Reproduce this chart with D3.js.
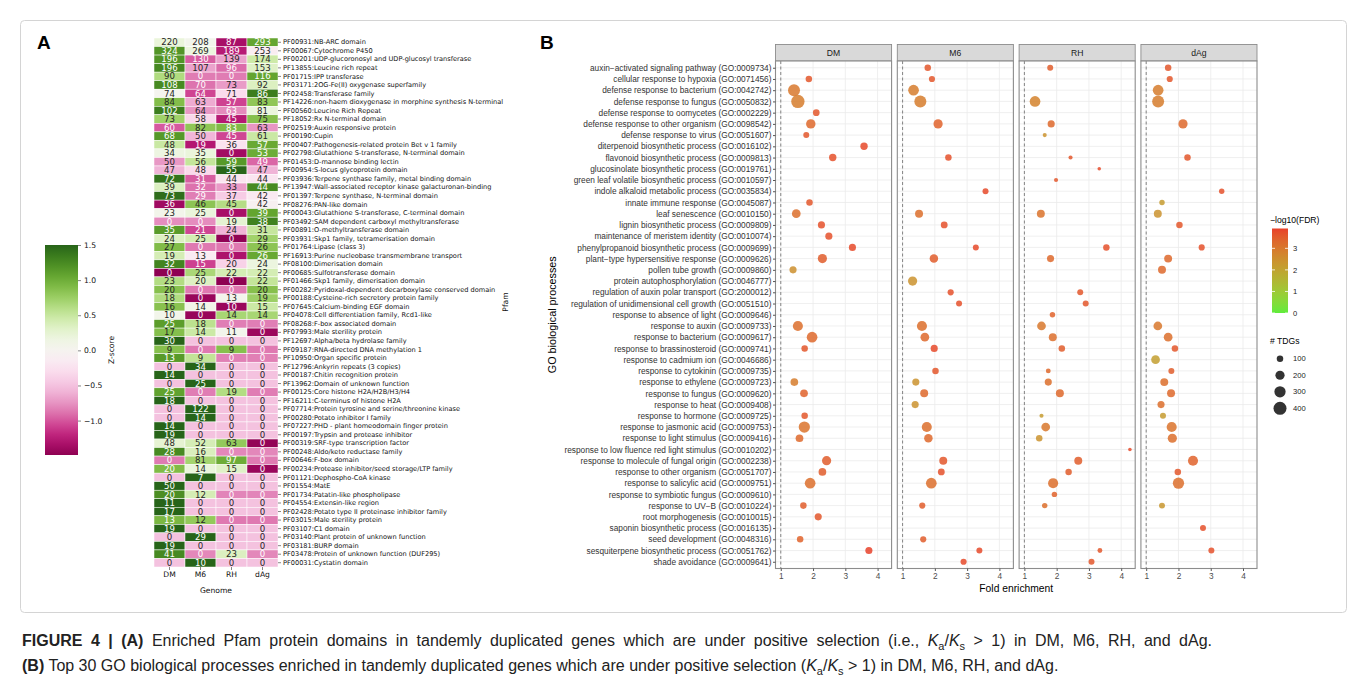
<!DOCTYPE html>
<html><head><meta charset="utf-8">
<script src="https://cdn.jsdelivr.net/npm/d3@7/dist/d3.min.js"></script>
<style>
body{margin:0;background:#fff}
svg{display:block}
</style>
</head><body>
<svg id="fig" width="1356" height="686"></svg>
<script>
// ---------- Panel A: Pfam domains x genome (TDG counts, coloured by row z-score)
const genomes = ["DM", "M6", "RH", "dAg"];
const pfamDomains = [
  "PF00931:NB-ARC domain",
  "PF00067:Cytochrome P450",
  "PF00201:UDP-glucoronosyl and UDP-glucosyl transferase",
  "PF13855:Leucine rich repeat",
  "PF01715:IPP transferase",
  "PF03171:2OG-Fe(II) oxygenase superfamily",
  "PF02458:Transferase family",
  "PF14226:non-haem dioxygenase in morphine synthesis N-terminal",
  "PF00560:Leucine Rich Repeat",
  "PF18052:Rx N-terminal domain",
  "PF02519:Auxin responsive protein",
  "PF00190:Cupin",
  "PF00407:Pathogenesis-related protein Bet v 1 family",
  "PF02798:Glutathione S-transferase, N-terminal domain",
  "PF01453:D-mannose binding lectin",
  "PF00954:S-locus glycoprotein domain",
  "PF03936:Terpene synthase family, metal binding domain",
  "PF13947:Wall-associated receptor kinase galacturonan-binding",
  "PF01397:Terpene synthase, N-terminal domain",
  "PF08276:PAN-like domain",
  "PF00043:Glutathione S-transferase, C-terminal domain",
  "PF03492:SAM dependent carboxyl methyltransferase",
  "PF00891:O-methyltransferase domain",
  "PF03931:Skp1 family, tetramerisation domain",
  "PF01764:Lipase (class 3)",
  "PF16913:Purine nucleobase transmembrane transport",
  "PF08100:Dimerisation domain",
  "PF00685:Sulfotransferase domain",
  "PF01466:Skp1 family, dimerisation domain",
  "PF00282:Pyridoxal-dependent decarboxylase conserved domain",
  "PF00188:Cysteine-rich secretory protein family",
  "PF07645:Calcium-binding EGF domain",
  "PF04078:Cell differentiation family, Rcd1-like",
  "PF08268:F-box associated domain",
  "PF07993:Male sterility protein",
  "PF12697:Alpha/beta hydrolase family",
  "PF09187:RNA-directed DNA methylation 1",
  "PF10950:Organ specific protein",
  "PF12796:Ankyrin repeats (3 copies)",
  "PF00187:Chitin recognition protein",
  "PF13962:Domain of unknown function",
  "PF00125:Core histone H2A/H2B/H3/H4",
  "PF16211:C-terminus of histone H2A",
  "PF07714:Protein tyrosine and serine/threonine kinase",
  "PF00280:Potato inhibitor I family",
  "PF07227:PHD - plant homeodomain finger protein",
  "PF00197:Trypsin and protease inhibitor",
  "PF00319:SRF-type transcription factor",
  "PF00248:Aldo/keto reductase family",
  "PF00646:F-box domain",
  "PF00234:Protease inhibitor/seed storage/LTP family",
  "PF01121:Dephospho-CoA kinase",
  "PF01554:MatE",
  "PF01734:Patatin-like phospholipase",
  "PF04554:Extensin-like region",
  "PF02428:Potato type II proteinase inhibitor family",
  "PF03015:Male sterility protein",
  "PF03107:C1 domain",
  "PF03140:Plant protein of unknown function",
  "PF03181:BURP domain",
  "PF03478:Protein of unknown function (DUF295)",
  "PF00031:Cystatin domain"
];
const countsDM  = [220,324,196,196,90,108,74,84,102,73,60,68,48,34,50,47,72,39,73,36,23,0,35,24,27,19,32,0,23,20,18,16,10,25,17,30,9,13,0,14,0,25,18,0,0,14,19,48,28,0,20,0,50,20,11,17,13,19,0,19,41,0];
const countsM6  = [208,269,130,107,0,70,64,63,64,58,82,50,19,35,56,48,31,32,29,46,25,0,21,25,0,13,15,25,20,0,0,14,0,18,14,0,0,9,34,0,25,0,0,122,14,0,0,52,16,81,14,7,0,12,0,0,12,0,29,0,0,10];
const countsRH  = [87,189,139,96,0,73,71,57,63,45,83,45,36,0,59,55,44,33,37,45,0,19,24,0,0,0,20,22,0,0,13,10,14,0,11,0,9,0,0,0,0,19,0,0,0,0,0,63,0,97,15,0,0,0,0,0,0,0,0,0,23,0];
const countsDAg = [293,253,174,153,116,92,86,83,81,75,63,61,57,53,49,47,44,44,42,42,39,38,31,29,26,26,24,22,22,20,19,15,14,0,0,0,0,0,0,0,0,0,0,0,0,0,0,0,0,0,0,0,0,0,0,0,0,0,0,0,0,0];
const zTicks = [1.5, 1.0, 0.5, 0.0, -0.5, -1.0];

// ---------- Panel B: GO biological processes (fold enrichment, -log10 FDR, # TDGs)
const goTerms = [
  "auxin\u2212activated signaling pathway (GO:0009734)",
  "cellular response to hypoxia (GO:0071456)",
  "defense response to bacterium (GO:0042742)",
  "defense response to fungus (GO:0050832)",
  "defense response to oomycetes (GO:0002229)",
  "defense response to other organism (GO:0098542)",
  "defense response to virus (GO:0051607)",
  "diterpenoid biosynthetic process (GO:0016102)",
  "flavonoid biosynthetic process (GO:0009813)",
  "glucosinolate biosynthetic process (GO:0019761)",
  "green leaf volatile biosynthetic process (GO:0010597)",
  "indole alkaloid metabolic process (GO:0035834)",
  "innate immune response (GO:0045087)",
  "leaf senescence (GO:0010150)",
  "lignin biosynthetic process (GO:0009809)",
  "maintenance of meristem identity (GO:0010074)",
  "phenylpropanoid biosynthetic process (GO:0009699)",
  "plant\u2212type hypersensitive response (GO:0009626)",
  "pollen tube growth (GO:0009860)",
  "protein autophosphorylation (GO:0046777)",
  "regulation of auxin polar transport (GO:2000012)",
  "regulation of unidimensional cell growth (GO:0051510)",
  "response to absence of light (GO:0009646)",
  "response to auxin (GO:0009733)",
  "response to bacterium (GO:0009617)",
  "response to brassinosteroid (GO:0009741)",
  "response to cadmium ion (GO:0046686)",
  "response to cytokinin (GO:0009735)",
  "response to ethylene (GO:0009723)",
  "response to fungus (GO:0009620)",
  "response to heat (GO:0009408)",
  "response to hormone (GO:0009725)",
  "response to jasmonic acid (GO:0009753)",
  "response to light stimulus (GO:0009416)",
  "response to low fluence red light stimulus (GO:0010202)",
  "response to molecule of fungal origin (GO:0002238)",
  "response to other organism (GO:0051707)",
  "response to salicylic acid (GO:0009751)",
  "response to symbiotic fungus (GO:0009610)",
  "response to UV\u2212B (GO:0010224)",
  "root morphogenesis (GO:0010015)",
  "saponin biosynthetic process (GO:0016135)",
  "seed development (GO:0048316)",
  "sesquiterpene biosynthetic process (GO:0051762)",
  "shade avoidance (GO:0009641)"
];
const _ = null;
const foldDM  = [_,1.87,1.41,1.53,2.10,1.93,1.79,3.58,2.61,_,_,_,1.89,1.48,2.26,2.49,3.22,2.29,1.38,_,_,_,_,1.53,1.97,1.74,_,_,1.42,1.72,_,1.74,1.73,1.58,_,2.42,2.29,1.91,_,1.70,2.16,_,1.60,3.73,_];
const tdgDM   = [_,100,340,420,105,210,85,130,130,_,_,_,100,180,120,120,120,200,120,_,_,_,_,240,270,100,_,_,140,140,_,100,300,140,_,200,140,270,_,100,120,_,100,120,_];
const fdrDM   = [_,3.6,3.0,2.9,3.6,3.3,3.6,3.8,3.7,_,_,_,3.6,3.2,3.7,3.7,3.8,3.5,2.5,_,_,_,_,3.2,3.3,3.6,_,_,2.9,3.4,_,3.6,3.1,3.3,_,3.5,3.5,3.2,_,3.5,3.6,_,3.4,3.9,_];
const foldM6  = [1.78,1.91,1.34,1.55,_,2.10,_,_,2.42,_,_,3.57,_,1.51,2.29,_,3.27,1.97,_,1.31,2.49,2.75,_,1.60,1.69,1.98,_,2.02,1.41,1.67,1.39,_,1.75,1.80,_,2.26,2.20,1.89,_,1.61,_,_,1.64,3.38,2.89];
const tdgM6   = [100,90,270,340,_,200,_,_,100,_,_,85,_,150,110,_,85,170,_,200,90,85,_,240,180,120,_,100,120,150,120,_,240,170,_,150,110,270,_,90,_,_,90,85,90];
const fdrM6   = [3.6,3.6,2.9,2.9,_,3.4,_,_,3.7,_,_,3.8,_,3.2,3.7,_,3.8,3.5,_,2.4,3.7,3.7,_,3.2,3.3,3.8,_,3.6,2.4,3.3,2.4,_,3.2,3.3,_,3.6,3.7,3.2,_,3.5,_,_,3.5,3.8,3.8];
const foldRH  = [1.80,_,_,1.33,_,1.83,1.63,_,2.43,3.32,1.98,_,_,1.51,_,_,3.54,1.81,_,_,2.73,2.90,1.87,1.53,1.88,2.16,_,1.74,1.74,2.10,_,1.53,1.66,1.46,4.27,2.67,2.37,1.89,1.93,1.63,_,_,_,3.34,3.08];
const tdgRH   = [85,_,_,270,_,120,40,_,40,30,40,_,_,150,_,_,100,120,_,_,85,85,70,180,150,100,_,55,120,150,_,40,180,100,30,150,100,240,70,70,_,_,_,55,85];
const fdrRH   = [3.5,_,_,2.8,_,3.3,2.4,_,3.6,3.8,3.6,_,_,3.1,_,_,3.7,3.3,_,_,3.6,3.6,3.4,3.0,3.2,3.5,_,3.3,3.2,3.3,_,2.2,3.0,2.4,3.8,3.5,3.5,3.2,3.4,3.2,_,_,_,3.6,3.6];
const foldDAg = [1.68,1.73,1.37,1.37,_,2.14,_,_,2.28,_,_,3.34,1.49,1.36,2.03,_,2.72,1.68,1.49,_,_,_,_,1.36,1.68,1.89,1.29,1.78,1.56,1.77,1.46,1.52,1.79,1.81,_,2.45,1.98,2.00,_,1.49,_,2.76,_,3.02,_];
const tdgDAg  = [100,90,270,340,_,200,_,_,100,_,_,70,70,150,100,_,90,150,150,_,_,_,_,180,180,100,180,85,150,150,120,85,240,200,_,240,100,300,_,85,_,85,_,85,_];
const fdrDAg  = [3.6,3.6,2.9,2.9,_,3.3,_,_,3.6,_,_,3.7,2.2,2.4,3.6,_,3.7,3.3,3.3,_,_,_,_,3.0,3.2,3.6,2.1,3.5,3.2,3.3,3.2,2.2,3.1,3.2,_,3.4,3.6,3.2,_,2.3,_,3.7,_,3.7,_];
const fdrTicks = [0, 1, 2, 3];
const tdgLegend = [100, 200, 300, 400];
const foldTicks = [1, 2, 3, 4];

// ---------------------------------------------------------------
const svg = d3.select("#fig");
svg.append("rect").attr("width", 1356).attr("height", 686).attr("fill", "#fff");
svg.append("rect").attr("x", 20.5).attr("y", 20.5).attr("width", 1326).attr("height", 592)
  .attr("rx", 4).attr("fill", "none").attr("stroke", "#d4d4d4");

const fontA = "'DejaVu Sans', sans-serif";
const fontB = "'Liberation Sans', Arial, sans-serif";

svg.append("text").attr("x", 37).attr("y", 49).attr("font-family", fontB)
  .attr("font-weight", "bold").attr("font-size", 19).text("A");
svg.append("text").attr("x", 540).attr("y", 49).attr("font-family", fontB)
  .attr("font-weight", "bold").attr("font-size", 19).text("B");

// ----- heatmap
const countCols = [countsDM, countsM6, countsRH, countsDAg];
const zRows = pfamDomains.map((_, i) => {
  const v = countCols.map(c => c[i]);
  const m = d3.mean(v), s = d3.deviation(v);
  return v.map(x => (x - m) / s);
});
const zAll = zRows.flat();
const zMin = d3.min(zAll), zMax = d3.max(zAll);
const zColor = d3.scaleSequential(d3.interpolatePiYG).domain([zMin, zMax]);

const hx = d3.scaleBand().domain(genomes).range([154, 278]);
const hy = d3.scaleBand().domain(pfamDomains).range([38, 567]);

function luminance(c) {
  const rgb = d3.rgb(c);
  const f = v => { v /= 255; return v <= 0.03928 ? v / 12.92 : Math.pow((v + 0.055) / 1.055, 2.4); };
  return 0.2126 * f(rgb.r) + 0.7152 * f(rgb.g) + 0.0722 * f(rgb.b);
}

const cells = [];
pfamDomains.forEach((p, i) => genomes.forEach((g, j) => {
  cells.push({ p, g, n: countCols[j][i], z: zRows[i][j] });
}));

const gA = svg.append("g");
gA.selectAll("rect.cell").data(cells).join("rect")
  .attr("x", d => hx(d.g)).attr("y", d => hy(d.p))
  .attr("width", hx.bandwidth()).attr("height", hy.bandwidth())
  .attr("fill", d => zColor(d.z)).attr("stroke", "#fff").attr("stroke-width", 0.5);
gA.selectAll("text.num").data(cells).join("text")
  .attr("x", d => hx(d.g) + hx.bandwidth() / 2).attr("y", d => hy(d.p) + hy.bandwidth() / 2)
  .attr("dy", "0.36em").attr("text-anchor", "middle")
  .attr("font-family", fontA).attr("font-size", 8.6)
  .attr("fill", d => luminance(zColor(d.z)) > 0.408 ? "#262626" : "#ffffff")
  .text(d => d.n);

const axR = gA.append("g").attr("transform", "translate(278,0)")
  .call(d3.axisRight(hy).tickSize(3).tickSizeOuter(0));
axR.select(".domain").remove();
axR.selectAll("text").attr("font-family", fontA).attr("font-size", 6.6).attr("fill", "#111").attr("x", 5);
axR.selectAll("line").attr("stroke", "#333").attr("stroke-width", 0.6);

const axB = gA.append("g").attr("transform", "translate(0,567)")
  .call(d3.axisBottom(hx).tickSize(3).tickSizeOuter(0));
axB.select(".domain").remove();
axB.selectAll("text").attr("font-family", fontA).attr("font-size", 7.6).attr("fill", "#111").attr("y", 5);
axB.selectAll("line").attr("stroke", "#333").attr("stroke-width", 0.6);
gA.append("text").attr("x", 216).attr("y", 593).attr("text-anchor", "middle")
  .attr("font-family", fontA).attr("font-size", 7.6).attr("fill", "#111").text("Genome");
gA.append("text").attr("transform", "translate(508,302) rotate(-90)").attr("text-anchor", "middle")
  .attr("font-family", fontA).attr("font-size", 7.6).attr("fill", "#111").text("Pfam");

// colour bar
const cbTop = 245, cbBot = 455, cbX = 45, cbW = 33;
const cbY = d3.scaleLinear().domain([zMin, zMax]).range([cbBot, cbTop]);
const defs = svg.append("defs");
const lgA = defs.append("linearGradient").attr("id", "zgrad").attr("x1", 0).attr("y1", 1).attr("x2", 0).attr("y2", 0);
d3.range(0, 1.0001, 0.05).forEach(t => lgA.append("stop").attr("offset", t)
  .attr("stop-color", zColor(zMin + t * (zMax - zMin))));
gA.append("rect").attr("x", cbX).attr("y", cbTop).attr("width", cbW).attr("height", cbBot - cbTop)
  .attr("fill", "url(#zgrad)");
const axCb = gA.append("g").attr("transform", `translate(${cbX + cbW},0)`)
  .call(d3.axisRight(cbY).tickValues(zTicks).tickFormat(d3.format(".1f")).tickSize(3));
axCb.select(".domain").remove();
axCb.selectAll("text").attr("font-family", fontA).attr("font-size", 7.6).attr("fill", "#111");
axCb.selectAll("line").attr("stroke", "#333").attr("stroke-width", 0.6);
gA.append("text").attr("transform", `translate(114,${(cbTop + cbBot) / 2}) rotate(-90)`)
  .attr("text-anchor", "middle").attr("font-family", fontA).attr("font-size", 7.6)
  .attr("fill", "#111").text("Z-score");

// ----- dot plot
const folds = { DM: foldDM, M6: foldM6, RH: foldRH, dAg: foldDAg };
const tdgs = { DM: tdgDM, M6: tdgM6, RH: tdgRH, dAg: tdgDAg };
const fdrs = { DM: fdrDM, M6: fdrM6, RH: fdrRH, dAg: fdrDAg };
const points = [];
genomes.forEach(g => goTerms.forEach((t, i) => {
  if (folds[g][i] != null) points.push({ g, t, fold: folds[g][i], n: tdgs[g][i], fdr: fdrs[g][i] });
}));

const fx = d3.scaleBand().domain(genomes).range([775.5, 1257]).paddingInner(0.047);
const lo = Math.min(1, d3.min(points, d => d.fold)), hi = d3.max(points, d => d.fold);
const pad = (hi - lo) * 0.05;
const x = d3.scaleLinear().domain([lo - pad, hi + pad]).range([0, fx.bandwidth()]);
const pTop = 61, pBot = 568.5;
const y = d3.scalePoint().domain(goTerms).range([pTop, pBot]).padding(0.6);
const fdrMax = 3.92;
const color = d3.scaleLinear().domain([0, fdrMax]).range(["#5fec3c", "#e8402a"]).interpolate(d3.interpolateLab);
const size = d3.scaleSqrt().domain([0, 450]).range([0, 6.9]);

const gB = svg.append("g");
genomes.forEach(g => {
  const px = fx(g), w = fx.bandwidth();
  const panel = gB.append("g").attr("transform", `translate(${px},0)`);
  // strip
  panel.append("rect").attr("x", 0).attr("y", 44.5).attr("width", w).attr("height", pTop - 44.5)
    .attr("fill", "#d9d9d9").attr("stroke", "#8c8c8c").attr("stroke-width", 0.9);
  panel.append("text").attr("x", w / 2).attr("y", (44.5 + pTop) / 2).attr("dy", "0.35em")
    .attr("text-anchor", "middle").attr("font-family", fontB).attr("font-size", 8.6)
    .attr("fill", "#1a1a1a").text(g);
  panel.append("rect").attr("x", 0).attr("y", pTop).attr("width", w).attr("height", pBot - pTop)
    .attr("fill", "#fff");
  // grid
  panel.selectAll("line.gy").data(goTerms).join("line")
    .attr("x1", 0).attr("x2", w).attr("y1", d => y(d)).attr("y2", d => y(d))
    .attr("stroke", "#ebebeb").attr("stroke-width", 0.8);
  panel.selectAll("line.gx").data(foldTicks).join("line")
    .attr("x1", d => x(d)).attr("x2", d => x(d)).attr("y1", pTop).attr("y2", pBot)
    .attr("stroke", "#ebebeb").attr("stroke-width", 0.8);
  panel.append("line").attr("x1", x(1)).attr("x2", x(1)).attr("y1", pTop).attr("y2", pBot)
    .attr("stroke", "#777").attr("stroke-width", 0.9).attr("stroke-dasharray", "3,2.5");
  // points
  panel.selectAll("circle").data(points.filter(d => d.g === g)).join("circle")
    .attr("cx", d => x(d.fold)).attr("cy", d => y(d.t)).attr("r", d => size(d.n))
    .attr("fill", d => color(d.fdr)).attr("fill-opacity", 0.85);
  panel.append("rect").attr("x", 0).attr("y", pTop).attr("width", w).attr("height", pBot - pTop)
    .attr("fill", "none").attr("stroke", "#8c8c8c").attr("stroke-width", 1.1);
  // x axis
  const ax = panel.append("g").attr("transform", `translate(0,${pBot})`)
    .call(d3.axisBottom(x).tickValues(foldTicks).tickFormat(d3.format("d")).tickSize(2.5).tickSizeOuter(0));
  ax.select(".domain").remove();
  ax.selectAll("line").attr("stroke", "#555");
  ax.selectAll("text").attr("font-family", fontB).attr("font-size", 8.3).attr("fill", "#4d4d4d").attr("y", 5);
});

// y axis labels on first panel
const ay = gB.append("g").attr("transform", `translate(${fx("DM")},0)`)
  .call(d3.axisLeft(y).tickSize(2.5).tickSizeOuter(0));
ay.select(".domain").remove();
ay.selectAll("line").attr("stroke", "#555");
ay.selectAll("text").attr("font-family", fontB).attr("font-size", 8.3).attr("fill", "#333").attr("x", -4);

gB.append("text").attr("transform", `translate(556,${(pTop + pBot) / 2}) rotate(-90)`)
  .attr("text-anchor", "middle").attr("font-family", fontB).attr("font-size", 10.8)
  .attr("fill", "#000").text("GO biological processes");
gB.append("text").attr("x", (fx("DM") + fx("dAg") + fx.bandwidth()) / 2).attr("y", 592)
  .attr("text-anchor", "middle").attr("font-family", fontB).attr("font-size", 10.3)
  .attr("fill", "#000").text("Fold enrichment");

// legends
const lgX = 1272;
gB.append("text").attr("x", lgX - 2).attr("y", 223).attr("font-family", fontB).attr("font-size", 8.6)
  .attr("fill", "#000").text("\u2212log10(FDR)");
const legTop = 228.5, legBot = 313;
const ly = d3.scaleLinear().domain([0, fdrMax]).range([legBot, legTop]);
const lgB = defs.append("linearGradient").attr("id", "fdrgrad").attr("x1", 0).attr("y1", 1).attr("x2", 0).attr("y2", 0);
d3.range(0, 1.0001, 0.05).forEach(t => lgB.append("stop").attr("offset", t).attr("stop-color", color(t * fdrMax)));
gB.append("rect").attr("x", lgX).attr("y", legTop).attr("width", 16).attr("height", legBot - legTop)
  .attr("fill", "url(#fdrgrad)");
fdrTicks.forEach(v => {
  gB.append("line").attr("x1", lgX).attr("x2", lgX + 3).attr("y1", ly(v)).attr("y2", ly(v)).attr("stroke", "#fff").attr("stroke-width", 0.8);
  gB.append("line").attr("x1", lgX + 13).attr("x2", lgX + 16).attr("y1", ly(v)).attr("y2", ly(v)).attr("stroke", "#fff").attr("stroke-width", 0.8);
  gB.append("text").attr("x", lgX + 21).attr("y", ly(v)).attr("dy", "0.35em")
    .attr("font-family", fontB).attr("font-size", 7.6).attr("fill", "#222").text(v);
});
gB.append("text").attr("x", lgX - 2).attr("y", 344).attr("font-family", fontB).attr("font-size", 8.6)
  .attr("fill", "#000").text("# TDGs");
const sy = d3.scalePoint().domain(tdgLegend).range([358.7, 408.3]);
tdgLegend.forEach(v => {
  gB.append("circle").attr("cx", lgX + 8).attr("cy", sy(v)).attr("r", size(v)).attr("fill", "#333");
  gB.append("text").attr("x", lgX + 21).attr("y", sy(v)).attr("dy", "0.35em")
    .attr("font-family", fontB).attr("font-size", 7.6).attr("fill", "#222").text(v);
});

// ----- caption (first line justified to the text block width)
const cap = svg.append("g").attr("font-family", fontB).attr("font-size", 16).attr("fill", "#222");
function kaks(t) {
  t.append("tspan").attr("font-style", "italic").text("K");
  t.append("tspan").attr("font-size", 11).attr("dy", 4).text("a");
  t.append("tspan").attr("dy", -4).text("/");
  t.append("tspan").attr("font-style", "italic").text("K");
  t.append("tspan").attr("font-size", 11).attr("dy", 4).text("s");
  t.append("tspan").attr("dy", -4).text(" > 1)");
}
const l1 = cap.append("text").attr("x", 22).attr("y", 646);
l1.append("tspan").attr("font-weight", "bold").text("FIGURE 4 | (A)");
l1.append("tspan").text(" Enriched Pfam protein domains in tandemly duplicated genes which are under positive selection (i.e., ");
kaks(l1);
l1.append("tspan").text(" in DM, M6, RH, and dAg.");
const natural = l1.node().getComputedTextLength();
const nSpaces = (l1.text().match(/ /g) || []).length;
l1.attr("word-spacing", Math.max(0, (1212 - 22 - natural) / nSpaces));
const l2 = cap.append("text").attr("x", 22).attr("y", 671);
l2.append("tspan").attr("font-weight", "bold").text("(B)");
l2.append("tspan").text(" Top 30 GO biological processes enriched in tandemly duplicated genes which are under positive selection (");
kaks(l2);
l2.append("tspan").text(" in DM, M6, RH, and dAg.");
</script>
</body></html>
